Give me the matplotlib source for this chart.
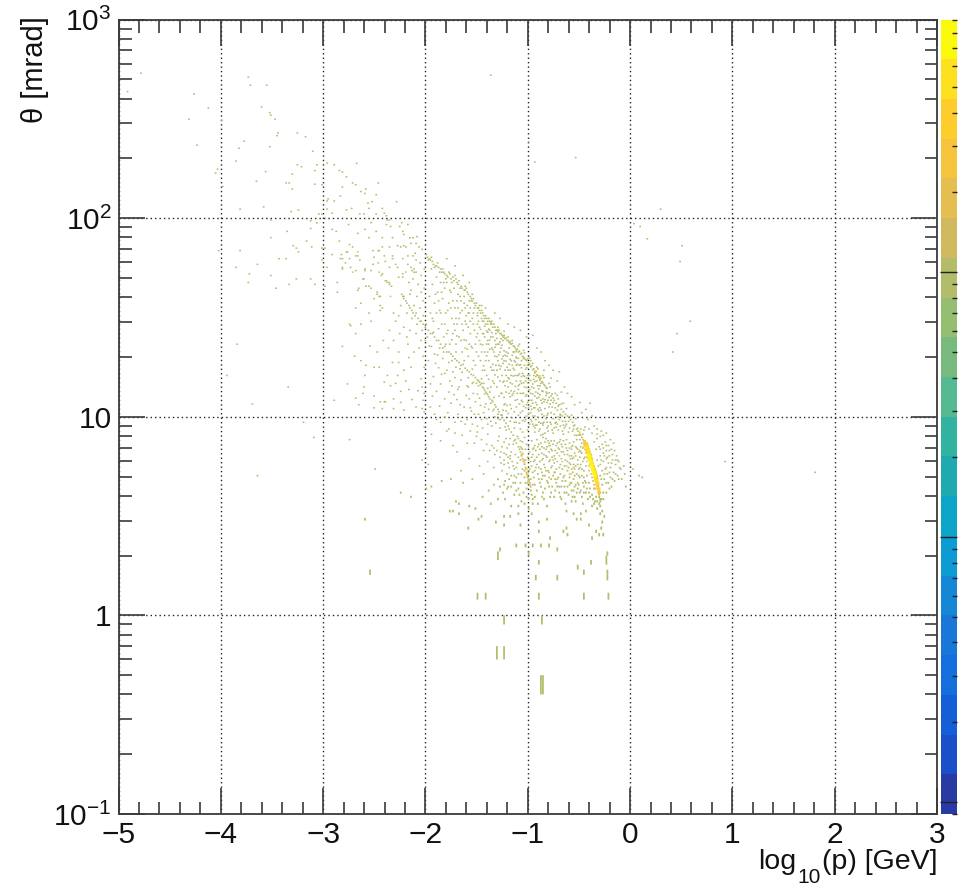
import numpy as np
import matplotlib
matplotlib.use("Agg")
import matplotlib.pyplot as plt
from matplotlib.colors import ListedColormap, LogNorm
from matplotlib.ticker import LogLocator, MultipleLocator, NullFormatter

# hits: (log10 p, theta in mrad)
far_hits = [(-4.79,532),(-4.92,430),(-4.27,418),(-4.13,355),(-4.32,312),(-4.0,309),(-4.24,231),(-3.78,242),
    (-3.83,223),(-3.86,192),(-4.04,175),(-4.06,167),(-3.99,143),(-3.66,152),(-3.82,110),(-3.74,508),(-3.72,463),
    (-3.56,463),(-3.61,360),(-3.53,337),(-3.52,327),(-3.48,312),(-3.45,266),(-3.46,258),(-3.26,266),(-3.18,255),
    (-3.53,227),(-3.11,215),(-3.57,170),(-3.26,184),(-3.22,180),(-3.31,165),(-3.07,184),(-3.09,172),(-3.37,149),
    (-3.34,149),(-3.31,139),(-3.09,147),(-3.02,146),(-3.59,113),(-3.32,107),(-3.25,109),(-3.05,104),(-3.02,104),
    (-1.37,520),(-1.0,240),(-0.54,200),(-0.94,190),(0.09,90),(0.29,110),(0.03,93),(0.16,78),(0.48,60),(0.41,21),
    (0.455,26),(0.58,30),(0.5,72),(0.92,5.9),(1.8,5.2),(-3.65,5.0),(-3.7,11.5),(-3.95,16),(-3.85,23),(-3.35,14),
    (-3.1,7.8),(-2.9,12),(-2.6,3.0),(-2.55,1.65),(-2.25,4.1),(-2.15,3.9),(-2.5,5.4),(-2.75,7.6),(-3.2,9.3)]

upper_left_hits = [(-2.97,188),(-2.90,184),(-2.68,187),(-2.85,172),(-2.82,169),(-2.78,160),(-2.72,149),(-2.69,146),
    (-2.82,142),(-2.47,149),(-2.64,135),(-2.59,139),(-2.60,132),(-2.49,130),(-2.84,128),(-2.96,124),(-2.97,121),
    (-2.90,121),(-2.53,120),(-2.57,118),(-2.29,120),(-2.56,111),(-2.43,111),(-2.73,111),(-2.78,109),(-2.97,110),
    (-2.92,105),(-2.65,104),(-2.61,104),(-2.49,104),(-2.41,105),(-2.39,102),(-3.52,97),(-3.13,96),(-3.07,94),
    (-2.76,92),(-2.54,94),(-2.38,97),(-2.36,97),(-2.24,94),(-2.18,92),(-2.39,92),(-2.35,90),(-2.26,90),(-3.13,88),
    (-2.92,87),(-2.88,85),(-2.60,87),(-2.49,85),(-2.23,85),(-2.22,82),(-3.36,85),(-2.67,83),(-3.52,79),(-2.56,79),
    (-2.43,79),(-2.33,79),(-2.16,79),(-2.13,79),(-2.09,80),(-2.85,76),(-3.17,76),(-2.75,73),(-3.30,72),(-3.12,71),
    (-2.72,71),(-2.43,71),(-2.15,74),(-2.10,74),(-2.25,71),(-2.20,71),(-2.07,71),(-4.03,68),(-3.82,68),(-3.27,70),
    (-3.25,67),(-3.02,70),(-2.99,70),(-2.52,68),(-2.47,68),(-2.67,67),(-2.78,67),(-2.92,65),(-2.83,65),(-2.69,64),
    (-2.33,64),(-2.18,64),(-2.13,64),(-3.44,62),(-3.37,62),(-3.02,61),(-2.84,62),(-2.65,61),(-2.33,62),(-2.40,60),
    (-2.10,61),(-3.65,58),(-2.79,59),(-2.52,58),(-2.47,59),(-3.86,56),(-2.97,56),(-2.82,56),(-2.74,56),(-2.36,56),
    (-2.28,56),(-2.15,56),(-2.12,55),(-2.60,55),(-2.54,54),(-3.73,52),(-3.52,51),(-2.72,53),(-2.46,53),(-2.43,52),
    (-2.23,52),(-2.20,53),(-2.12,53),(-3.13,49),(-3.27,49),(-3.74,47),(-3.34,46),(-2.87,47),(-2.61,49),(-2.39,48),
    (-2.36,47),(-2.23,50),(-3.09,46),(-3.47,44),(-2.56,45),(-2.87,42),(-2.99,45),(-2.67,43),(-2.48,41),(-2.22,40),
    (-2.35,40),(-2.45,40),(-2.16,41)]

mid_left_hits = [(-2.82,22.4),(-2.77,14.5),(-2.69,35),(-2.75,29),(-2.74,28.5),(-2.64,29),(-2.69,26),(-2.54,30),
    (-2.36,27),(-2.42,24),(-2.32,24),(-2.19,25),(-2.27,21),(-2.70,20),(-2.64,19),(-2.59,18),(-2.51,17.6),(-2.46,17.6),
    (-2.33,18.6),(-2.27,18.6),(-2.17,19.7),(-2.22,17),(-2.15,17.6),(-2.02,17.6),(-2.60,16),(-2.41,14.8),(-2.35,14.2),
    (-2.30,14.6),(-2.20,15),(-2.05,15.4),(-2.04,14),(-2.61,14),(-2.62,13),(-2.51,12.6),(-2.45,11.8),(-2.41,11.8),
    (-2.40,11.8),(-2.69,12.3),(-2.66,11.4),(-2.32,12.2),(-2.25,11.7),(-2.14,12.1),(-2.10,11.1),(-2.51,11),(-2.43,10.9),
    (-2.32,10.9),(-2.22,10.7),(-2.04,10.9),(-2.02,10.5),(-2.82,62),(-2.77,67),(-2.67,67),(-2.75,62),(-2.72,53),
    (-2.82,55),(-2.67,64),(-2.60,54),(-2.69,54),(-2.615,49),(-2.51,63),(-2.46,68),(-2.41,64),(-2.36,71),(-2.28,72),
    (-2.22,72),(-2.46,53),(-2.44,51),(-2.40,48),(-2.38,47),(-2.355,46),(-2.34,45),(-2.66,44),(-2.54,44),(-2.59,45),
    (-2.48,42),(-2.46,40),(-2.35,40),(-2.27,50),(-2.20,53),(-2.137,54),(-2.10,53),(-2.05,51),(-2.15,43),(-2.17,47),
    (-2.09,40),(-2.02,44),(-2.446,34),(-2.43,35),(-2.32,33),(-2.27,32),(-2.51,39),(-2.64,37),(-2.14,31),(-2.22,28),
    (-2.10,26),(-2.05,24),(-2.07,22),(-2.45,36),(-2.56,33),(-2.30,30),(-2.12,21),(-2.18,23),(-2.03,20),(-2.37,22),
    (-2.48,21),(-2.55,22.5),(-2.26,26),(-2.02,13),(-2.08,13.4),(-2.17,13.6),(-2.25,13.3),(-2.03,12),(-2.38,16),(-2.28,16),
    (-2.12,36),(-2.06,35),(-2.03,38),(-2.08,46),(-2.19,33),(-2.25,36),(-2.04,27),(-2.09,29),(-2.16,27),(-2.01,24),
    (-2.03,32),(-2.05,42),(-2.13,49),(-2.18,58),(-2.06,59),(-2.11,66),(-2.04,69),(-2.23,62),(-2.30,58),(-2.02,55)]

ridge_upper_hits = [(-2.0,65),(-1.99,63),(-1.97,62),(-1.96,61),(-1.94,60),(-1.93,58),(-1.91,57),(-1.90,57),(-1.88,56),
    (-1.86,55),(-1.85,53),(-1.83,53),(-1.82,52),(-1.80,51),(-1.79,50),(-1.77,52),(-1.76,49),(-1.74,50),(-1.73,48),
    (-1.71,49),(-1.70,47),(-1.69,46),(-1.68,48),(-1.66,45),(-1.65,44),(-1.63,43),(-1.62,43),(-1.60,42),(-1.59,41),
    (-1.57,40),(-1.56,39),(-1.55,38),(-1.53,37),(-1.52,36),(-1.51,37),(-1.50,35),(-1.49,35),(-1.48,34),(-1.47,33),
    (-1.46,34),(-1.45,33),(-1.44,32),(-1.43,31),(-1.42,32),(-1.41,31),(-1.40,30),(-1.39,31),(-1.38,30),(-1.37,29),
    (-1.36,29),(-1.35,28),(-1.34,29),(-1.33,28),(-1.32,27),(-1.31,27),(-1.30,26.5),(-1.29,27),(-1.28,26),(-1.27,26),
    (-1.26,25.5),(-1.25,25),(-1.24,25.5),(-1.23,24.5),(-1.22,24.7),(-1.21,24),(-1.20,24),(-1.19,23.5),(-1.18,23.7),
    (-1.17,23),(-1.16,23.2),(-1.15,22.5),(-1.14,22.4),(-1.13,22),(-1.12,21.5),(-1.11,21.7),(-1.10,21),(-1.09,21.2),
    (-1.08,20.5),(-1.07,20.7),(-1.06,20),(-1.05,19.8),(-1.04,19.5),(-1.03,19.2),(-1.02,19),(-1.01,19.4),(-1.0,18.5),
    (-0.99,18.2),(-0.98,17.7),(-0.97,17.9),(-0.96,17.1),(-0.95,17.3),(-0.94,16.5),(-0.93,16.7),(-0.92,16.1),(-0.91,16),
    (-0.90,15.6),(-0.89,15.3),(-0.88,15.5),(-0.87,14.9),(-0.86,14.7),(-0.85,14.4),(-0.84,14.2),(-0.83,13.9),(-0.82,13.8),
    (-0.80,13.1),(-0.78,12.6),(-0.76,12.3),(-0.75,12),(-0.73,11.6),(-0.71,11.2),(-0.70,11.4),(-0.68,10.8),(-0.66,10.5),
    (-0.64,10.2),(-0.62,10),(-0.60,9.9),(-0.59,9.6),(-0.57,9.3),(-0.55,9.0),(-0.53,8.6),(-0.52,8.4),(-0.50,8.1),(-0.48,7.8)]

ridge_upper_side = [(-1.44,30),(-1.40,29),(-1.36,30),(-1.30,28),(-1.27,24.5),(-1.24,26.7),(-1.20,25),(-1.16,24),(-1.14,21),
    (-1.10,22.5),(-1.07,19),(-1.04,20.8),(-1.01,18),(-0.99,19.6),(-0.96,18.4),(-0.93,15.8),(-0.91,17.3),(-0.88,14.6),
    (-0.85,15.6),(-0.82,13),(-0.79,14),(-0.76,11.7),(-0.72,12.7),(-0.69,10.1),(-0.66,11.6),(-0.64,9.4),(-1.62,45),(-1.55,41),
    (-1.48,36),(-1.42,35),(-1.33,33),(-1.28,31),(-1.20,29),(-1.14,28),(-1.08,27),(-1.02,25),(-0.96,25.5),(-0.92,22),(-0.88,21),
    (-0.84,19),(-0.80,18),(-0.76,17),(-0.72,15),(-0.70,16.7),(-0.65,14),(-0.62,13),(-0.58,12.5),(-0.55,11.4),(-0.50,11.7),
    (-0.48,10.4),(-0.44,10.8),(-0.40,11.6),(-0.85,17),(-0.78,15.5),(-0.68,13.2),(-1.64,51),(-1.72,57),(-1.80,62),(-1.58,47),
    (-1.98,61),(-1.95,63),(-1.92,56),(-1.89,59),(-1.87,53),(-1.84,55),(-1.81,49),(-1.78,53),(-1.75,47),(-1.72,51),(-1.67,44),
    (-1.61,44),(-1.58,38),(-1.54,39),(-1.50,33),(-1.46,36),(-1.12,19.8),(-1.09,23),(-1.05,21.4),(-1.02,17.5),(-0.98,19),(-0.95,16),
    (-0.92,17.6),(-0.89,14.2),(-0.86,16),(-0.83,13.2),(-0.80,14.6),(-0.77,12.9),(-0.74,11),(-0.71,12.2),(-0.67,10),(-0.63,10.9),
    (-0.61,9.4),(-0.58,10.1),(-0.56,8.9),(-0.54,9.7),(-0.51,8.0),(-0.49,8.6),(-0.47,8.1),(-0.46,8.5)]

ridge_lower_hits = [(-2.24,41),(-2.23,40),(-2.22,39),(-2.20,38),(-2.19,37),(-2.17,36),(-2.16,35),(-2.14,34),(-2.13,33),(-2.11,32),
    (-2.10,33),(-2.08,31),(-2.06,30),(-2.05,30),(-2.03,29),(-2.01,28),(-2.0,29),(-1.98,27),(-1.96,26),(-1.94,26),(-1.92,25),
    (-1.90,24),(-1.88,24),(-1.86,23),(-1.84,22),(-1.82,22.4),(-1.80,21),(-1.78,21),(-1.76,20.5),(-1.74,20),(-1.72,19.4),
    (-1.70,19),(-1.68,18.6),(-1.66,18),(-1.64,18.2),(-1.62,17.4),(-1.60,17),(-1.58,16.7),(-1.56,16.2),(-1.54,16),(-1.52,15.6),
    (-1.50,15.2),(-1.49,15),(-1.48,14.8),(-1.47,14.4),(-1.46,14.6),(-1.45,14),(-1.44,13.8),(-1.43,13.5),(-1.42,13.2),(-1.41,13),
    (-1.40,12.8),(-1.39,12.5),(-1.38,12.2),(-1.36,12),(-1.35,11.8),(-1.33,11.4),(-1.32,11.1),(-1.30,10.8),(-1.29,10.5),(-1.27,10.1),
    (-1.26,9.8),(-1.24,9.5),(-1.22,9.2),(-1.20,8.9),(-1.19,8.6),(-1.17,8.3),(-1.15,8.0),(-1.13,7.6),(-1.12,7.3),(-1.10,7.0),
    (-1.09,6.8),(-1.08,6.6),(-1.07,6.3),(-1.06,6.1),(-1.05,5.9),(-1.04,5.7),(-1.03,5.5),(-1.02,5.2),(-1.01,5.0),(-1.0,4.8),
    (-0.99,4.6),(-0.98,4.4),(-0.98,4.2),(-0.97,4.0),(-1.49,14.2),(-1.44,14.6),(-1.38,13.2),(-1.34,12.4),(-1.30,10.2),(-1.25,10.7),
    (-1.93,26.4),(-1.87,22),(-1.81,23),(-1.75,19),(-1.71,21),(-1.67,17.3),(-1.63,19),(-1.59,15.6),(-1.55,17.2),(-1.51,14.6),(-1.46,15.4),
    (-1.40,13.8),(-1.37,11.6),(-1.34,10.8),(-1.28,9.6),(-1.23,8.8),(-1.18,9.4),(-1.14,7.5),(-1.11,7.9),(-1.08,6.0),(-1.06,6.8),(-1.04,5.3),
    (-1.03,6.0),(-1.01,4.6),(-1.0,5.3),(-0.98,4.8),(-0.96,4.5),(-0.96,3.8)]

wedge_hits = [(-1.97,40),(-1.96,33),(-1.95,55),(-1.94,46),(-1.93,30),(-1.92,37),(-1.90,50),(-1.89,42),(-1.88,27.5),(-1.87,34),
    (-1.86,47),(-1.85,29),(-1.84,39),(-1.83,25),(-1.82,44),(-1.81,33),(-1.80,47),(-1.79,27),(-1.78,37),(-1.77,23),(-1.76,42),
    (-1.75,31),(-1.74,26),(-1.73,44),(-1.72,35),(-1.71,23),(-1.70,29),(-1.69,41),(-1.68,25),(-1.67,33),(-1.66,38),(-1.65,21),
    (-1.64,27),(-1.63,40),(-1.62,30),(-1.61,24),(-1.60,36),(-1.59,20),(-1.58,33),(-1.57,26),(-1.56,38),(-1.55,22),(-1.54,29),
    (-1.53,35),(-1.52,18),(-1.51,25),(-1.50,32),(-1.49,20),(-1.48,28),(-1.47,23),(-1.46,31),(-1.45,17),(-1.44,26),(-1.43,21),
    (-1.42,29),(-1.41,16),(-1.40,24),(-1.39,19),(-1.38,27),(-1.37,14),(-1.36,22),(-1.35,25),(-1.34,17),(-1.33,20),(-1.32,26),
    (-1.31,14),(-1.30,23),(-1.29,18),(-1.28,21),(-1.27,13),(-1.26,16),(-1.25,24),(-1.24,19),(-1.23,11.5),(-1.22,21),(-1.21,15),
    (-1.20,17),(-1.19,22),(-1.18,12.5),(-1.17,19),(-1.16,14.5),(-1.15,21),(-1.14,10.5),(-1.13,16),(-1.12,18),(-1.11,13),(-1.10,19.5),
    (-1.09,11.5),(-1.08,15),(-1.07,17.5),(-1.06,9.5),(-1.05,13),(-1.04,18),(-1.03,11),(-1.02,15.5),(-1.01,8.5),(-1.0,13.5),(-0.99,16),
    (-0.98,9.6),(-0.97,12),(-0.96,14.5),(-0.95,8.9),(-0.94,11),(-0.93,13.2),(-0.92,15),(-0.91,9.9),(-0.90,12.4),(-0.89,8.6),(-0.88,10.7),
    (-0.87,13.4),(-0.86,9.2),(-0.85,11.8),(-0.84,8.2),(-0.83,12.7),(-0.82,10.1),(-0.81,8.9),(-0.80,11.1),(-0.79,9.3),(-0.78,10.4),
    (-1.94,31),(-1.91,41),(-1.86,33),(-1.83,47),(-1.80,26),(-1.76,35),(-1.73,29),(-1.70,38),(-1.66,24),(-1.62,35),(-1.59,28),(-1.55,31),
    (-1.52,23),(-1.49,30),(-1.45,26),(-1.42,19),(-1.39,23),(-1.36,17),(-1.33,24),(-1.30,19),(-1.27,22),(-1.24,15),(-1.21,20),(-1.18,17),
    (-1.15,13),(-1.12,15),(-1.09,18),(-1.06,13),(-1.03,15),(-1.0,11),(-0.97,14),(-0.94,10),(-0.91,13),(-0.88,12),(-0.85,10),(-0.82,11.7),
    (-1.58,23),(-1.54,19),(-1.50,26),(-1.46,21),(-1.43,25),(-1.40,21),(-1.37,25),(-1.34,21),(-1.31,17),(-1.28,15),(-1.25,20),(-1.22,16),
    (-1.19,13),(-1.16,18),(-1.13,12),(-1.10,16),(-1.07,12),(-1.04,14),(-1.01,16),(-0.98,13),(-0.95,11),(-0.92,9),(-0.89,11),(-0.86,12.2),
    (-1.35,15),(-1.32,18),(-1.29,23),(-1.26,13),(-1.23,17),(-1.20,14),(-1.17,16),(-1.14,19),(-1.11,16),(-1.08,13),(-1.05,16),(-1.02,10),
    (-0.99,12),(-0.96,10),(-0.93,11.7),(-0.90,9.3),(-0.87,10.2),(-0.84,10.9),(-0.81,12),(-0.78,12),(-0.75,10.2),(-0.72,10.7),(-0.70,9.6),
    (-0.68,11.5),(-0.74,13),(-0.77,8.5),(-0.73,8.8),(-1.32,9.2),(-1.28,8.7),(-1.24,11.4),(-1.20,10.3),(-1.16,9.8),(-1.12,9.3),(-1.08,8.6),
    (-1.42,11.5),(-1.48,12.3),(-1.54,13),(-1.60,14.2),(-1.66,15.2),(-1.72,15.6),(-1.78,18.6),(-1.84,19.5),(-1.92,20.5),(-1.97,22.5),
    (-1.93,15.8),(-1.86,14.5),(-1.78,13.2),(-1.70,12.1),(-1.63,11.1),(-1.56,10.6),(-1.49,10.2),(-1.41,9.7),(-1.36,8.9),(-1.98,19),(-1.96,14.5),
    (-1.74,16.7),(-1.68,14),(-1.58,12.2),(-1.88,17.5),(-1.82,16.4),(-1.52,11.8),(-1.44,10.4)]

wedge_extra = [(-1.47,27.3),(-1.41,26.8),(-1.38,24.1),(-1.35,21.6),(-1.33,22.2),(-1.31,24.6),(-1.29,20.3),(-1.28,17.2),(-1.26,22.7),(-1.25,18.4),
    (-1.24,21.3),(-1.23,14.2),(-1.22,18.9),(-1.21,17.6),(-1.20,20.7),(-1.19,15.4),(-1.18,19.3),(-1.17,13.4),(-1.16,20.2),(-1.15,15.9),(-1.14,17.1),
    (-1.13,14.1),(-1.12,19.6),(-1.11,12.1),(-1.10,14.2),(-1.09,16.3),(-1.08,18.1),(-1.07,14.6),(-1.06,16.4),(-1.05,11.2),(-1.04,15.8),(-1.03,17.2),
    (-1.02,12.8),(-1.01,14.7),(-1.0,10.3),(-0.99,13.6),(-0.98,15.1),(-0.97,10.8),(-0.96,12.9),(-0.95,13.8),(-0.94,14.9),(-0.93,9.6),(-0.92,11.4),
    (-0.91,14.2),(-0.90,10.6),(-0.89,12.8),(-0.88,9.2),(-0.87,11.6),(-0.86,13.3),(-0.85,9.3),(-0.84,12.1),(-0.83,9.7),(-0.82,8.7),(-0.81,10.3),
    (-0.80,12.4),(-0.79,11.5),(-0.77,11.1),(-0.76,9.7),(-0.74,9.2),(-0.71,9.9),(-0.69,8.9),(-0.67,9.4),(-0.65,8.7),(-0.63,9.1),
    (-1.45,22.8),(-1.44,17.9),(-1.43,28.3),(-1.41,20.1),(-1.40,26.4),(-1.39,15.3),(-1.38,21.7),(-1.37,17.6),(-1.36,26.3),(-1.35,18.2),(-1.34,14.6),
    (-1.33,16.1),(-1.32,22.9),(-1.31,19.9),(-1.30,15.7),(-1.29,12.6),(-1.28,23.6),(-1.27,17.8),(-1.26,19.4),(-1.25,14.8),(-1.24,12.4),(-1.23,20.2),
    (-1.22,13.2),(-1.21,11.3),(-1.20,15.6),(-1.19,18.2),(-1.18,14.7),(-1.17,10.9),(-1.16,12.7),(-1.15,17.4),(-1.14,13.3),(-1.13,18.7),(-1.12,11.1),
    (-1.11,18.2),(-1.10,13.6),(-1.09,14.4),(-1.08,10.4),(-1.07,15.8),(-1.06,11.8),(-1.05,14.7),(-1.04,9.4),(-1.03,12.6),(-1.02,13.9),(-1.01,11.7),
    (-1.0,15.2),(-0.99,9.1),(-0.98,11.2),(-0.97,9.4),(-0.96,11.6),(-0.95,15.3),(-0.94,12.6),(-0.93,9.0),(-0.92,12.3),(-0.91,10.8),(-0.90,13.7),
    (-1.75,24.2),(-1.72,27),(-1.70,25.3),(-1.68,31),(-1.65,29),(-1.63,24.2),(-1.61,32),(-1.60,21.7),(-1.57,30),(-1.56,22.4),(-1.54,33),(-1.53,27),
    (-1.51,21),(-1.50,29),(-1.48,24),(-1.47,19),(-1.45,30),(-1.43,17),(-1.41,23),(-1.39,27.4),(-1.90,33),(-1.88,38),(-1.85,42),(-1.82,29),(-1.79,34),
    (-1.77,43),(-1.74,38),(-1.71,31),(-1.69,35),(-1.67,40),(-1.65,34),(-1.63,37),(-1.61,29),(-1.59,33),(-1.57,35),
    (-1.30,9.7),(-1.26,10.1),(-1.22,10.6),(-1.18,11.4),(-1.14,9.3),(-1.10,10.1),(-1.06,10.6),(-1.02,11.4),(-0.98,10.4),(-0.94,8.7),(-0.90,8.4),(-0.86,8.1),
    (-0.82,9.3),(-0.78,9.1),(-0.75,8.7),(-0.72,9.1),(-0.69,10.2),(-0.67,8.4),(-0.64,8.9),(-0.60,8.7),(-0.57,8.4),(-0.55,8.0)]

left_extra = [(-1.99,25),(-1.95,22.4),(-1.91,18.4),(-1.89,20.3),(-1.85,16.2),(-1.83,21),(-1.80,17),(-1.77,15),(-1.75,14.2),(-1.73,12.8),(-1.71,17.6),
    (-1.69,13.6),(-1.67,11.4),(-1.65,16.6),(-1.61,12.7),(-1.59,14),(-1.57,11),(-1.55,14.6),(-1.53,10.2),(-1.50,12.9),(-1.47,11.3),(-1.46,9.6),(-1.43,11.1),
    (-1.39,10.8),(-1.37,9.4),(-1.33,9.9),(-1.94,12.6),(-1.90,13.3),(-1.87,11.2),(-1.82,12.2),(-1.79,10.4),(-1.76,11.6),(-1.69,10.2),(-1.66,9.4),(-1.60,9.6),
    (-1.55,9.1),(-1.50,8.3),(-1.45,8.7),(-1.40,9.1),(-1.96,11.1),(-1.92,10.2),(-1.86,9.3),(-1.80,8.4),(-1.72,8.2),(-1.65,8.0),(-1.57,8.4),(-1.53,7.3),(-1.46,7.6),
    (-1.41,7.2),(-1.38,6.7),(-1.34,6.9),(-1.31,6.7),(-1.29,7.9),(-1.27,6.6),(-1.24,7.4),(-1.24,6.5),(-1.22,7.7),(-1.19,7.2),(-1.18,6.3)]

blob_hits = [(-1.18,7.7),(-1.15,7.2),(-1.21,6.9),(-1.17,6.6),(-1.13,6.4),(-1.20,6.2),(-1.16,5.9),(-1.11,5.8),(-1.24,5.7),(-1.19,5.5),
    (-1.14,5.4),(-1.26,5.3),(-1.21,5.1),(-1.17,5.0),(-1.12,4.9),(-1.30,4.8),(-1.23,4.7),(-1.15,4.6),(-1.34,4.5),(-1.20,4.4),(-1.10,4.3),
    (-1.39,4.2),(-1.25,4.1),(-1.14,4.0),(-1.45,3.9),(-1.30,3.8),(-1.07,3.7),(-1.37,3.6),(-1.17,3.5),(-1.52,3.4),(-1.10,7.7),(-1.08,7.5),
    (-1.06,7.4),(-1.04,7.8),(-1.02,7.2),(-1.07,6.9),(-1.03,6.8),(-1.0,7.0),(-0.97,7.5),(-0.95,6.9),(-0.99,6.6),(-0.96,6.4),(-0.93,6.7),
    (-0.90,7.2),(-0.92,6.2),(-0.95,5.9),(-0.89,5.9),(-0.97,5.6),(-0.93,5.5),(-0.87,6.5),(-0.88,5.4),(-0.96,5.2),(-0.91,5.1),(-0.85,5.7),
    (-0.95,4.9),(-0.90,4.8),(-0.84,5.0),(-0.94,4.5),(-0.88,4.4),(-0.82,4.7),(-0.92,4.2),(-0.86,4.1),(-0.80,4.4),(-0.94,3.9),(-0.85,3.8),
    (-0.78,4.1),(-0.91,3.6),(-0.82,3.5),(-0.75,3.9),(-0.86,7.8),(-0.84,7.4),(-0.82,7.0),(-0.80,6.6),(-0.83,6.3),(-0.78,7.5),(-0.77,6.2),
    (-0.80,5.9),(-0.75,5.8),(-0.78,5.5),(-0.73,7.1),(-0.72,6.5),(-0.75,5.2),(-0.70,5.5),(-0.74,4.8),(-0.69,5.1),(-0.72,4.4),(-0.67,4.7),
    (-0.70,4.1),(-0.65,4.4),(-0.68,3.8),(-0.63,4.1),(-0.64,3.6),(-0.69,7.6),(-0.67,7.0),(-0.65,6.4),(-0.68,6.1),(-0.63,6.9),(-0.62,5.9),
    (-0.65,5.6),(-0.60,6.3),(-0.62,5.3),(-0.59,5.7),(-0.60,4.9),(-0.57,5.2),(-0.60,4.5),(-0.56,4.8),(-0.58,4.2),(-0.55,4.4),(-0.57,3.9),
    (-0.53,4.1),(-0.54,3.7),(-0.60,7.3),(-0.58,6.8),(-0.56,7.4),(-0.55,6.5),(-0.57,6.1),(-0.53,6.9),(-0.52,6.0),(-0.54,5.6),(-0.51,5.4),
    (-0.53,5.1),(-0.50,4.9),(-0.51,4.5),(-0.49,4.2),(-0.48,3.9),(-0.50,7.6),(-0.49,7.0),(-0.48,6.5),(-0.50,6.2),(-0.47,5.9),(-0.49,5.7),
    (-0.46,5.3),(-0.48,5.0),(-0.45,4.7),(-0.46,4.4),(-0.44,4.1),(-0.42,3.8),(-0.47,3.6),(-0.38,3.5),(-0.35,3.7),(-0.33,3.4),(-0.30,3.2),
    (-0.44,5.6),(-0.43,5.0),(-0.41,4.6),(-0.40,4.3),(-0.38,4.0),(-0.36,4.3),(-0.34,3.9),(-0.31,3.6),(-0.29,3.8),(-0.27,4.1),(-0.28,4.5),
    (-0.26,4.8),(-0.30,5.0),(-0.28,5.3),(-0.25,5.4),(-0.30,5.7),(-0.27,5.9),(-0.24,6.1),(-0.33,6.0),(-0.30,6.3),(-0.27,6.5),(-0.24,6.7),
    (-0.21,6.3),(-0.34,6.8),(-0.31,7.0),(-0.28,7.2),(-0.25,7.4),(-0.22,7.1),(-0.19,6.8),(-0.36,7.4),(-0.33,7.7),(-0.30,7.9),(-0.27,8.0),
    (-0.22,5.8),(-0.20,5.5),(-0.18,6.0),(-0.23,5.1),(-0.20,4.9),(-0.17,5.2),(-0.15,5.7),(-0.22,4.6),(-0.19,4.4),(-0.16,4.7),(-0.13,5.0),
    (-0.14,6.3),(-0.16,6.7),(-0.12,5.9),(-0.10,5.4),(-0.09,4.8),(-0.06,5.1),(-0.05,4.4),(0.02,5.4),(0.08,5.0),(0.11,4.9),(-0.38,8.2),(-0.41,8.6),
    (-0.36,8.9),(-0.33,8.6),(-0.45,8.8),(-0.42,9.6),(-0.38,10),(-1.22,8.5),(-1.14,8.7),(-1.06,8.3),(-1.01,8.5),(-0.94,8.3),(-0.88,8.0),(-0.81,8.4),
    (-0.76,8.2),(-0.71,8.5),(-0.66,8.1),(-0.61,8.3),(-0.56,8.6),(-0.53,8.0),(-1.09,9.2),(-1.03,9.6),(-0.96,9.1),(-0.86,9.0),(-0.73,9.3),(-0.66,9.0),
    (-1.30,7.5),(-1.36,7.1),(-1.44,6.7),(-1.51,7.9),(-1.60,7.3),(-1.70,6.6),(-1.78,8.6),(-1.90,9.6),(-1.82,9.9),(-1.72,9.3),(-1.62,9.1),(-1.50,8.9),
    (-1.40,8.1),(-1.33,6.4),(-1.40,5.9),(-1.48,5.6),(-1.58,6.1),(-1.66,5.3),(-1.74,7.1),(-1.86,7.5),(-1.95,8.1),(-2.02,8.8),(-2.04,6.0),(-1.98,5.7),
    (-1.85,4.7),(-1.76,4.8),(-1.64,4.6),(-1.55,4.8),(-1.44,5.1),(-1.34,5.5),(-1.28,6.2),(-1.26,7.0),(-2.0,6.9),(-2.0,4.3),(-1.95,4.4)]

blob_extra = [(-0.94,7.1),(-0.92,7.6),(-0.90,6.4),(-0.89,6.8),(-0.88,7.3),(-0.87,5.2),(-0.86,6.1),(-0.85,6.9),(-0.84,5.5),(-0.83,7.7),(-0.82,6.2),(-0.81,5.3),
    (-0.80,7.3),(-0.79,6.0),(-0.78,6.8),(-0.77,5.6),(-0.76,7.2),(-0.75,6.3),(-0.74,6.7),(-0.73,5.4),(-0.72,5.9),(-0.71,6.9),(-0.70,7.4),(-0.69,5.7),(-0.68,6.6),
    (-0.67,5.4),(-0.66,7.5),(-0.65,5.0),(-0.64,6.0),(-0.63,7.6),(-0.62,6.7),(-0.61,5.5),(-0.60,6.9),(-0.59,6.1),(-0.58,5.4),(-0.57,7.1),(-0.56,5.7),(-0.55,5.0),
    (-0.54,6.3),(-0.53,7.6),(-0.52,6.8),(-0.51,5.0),(-0.50,5.5),(-0.49,6.6),(-0.48,5.4),(-0.47,6.9),(-0.46,4.9),(-0.45,6.2),(-0.94,5.3),(-0.92,5.7),(-0.90,5.5),
    (-0.89,4.6),(-0.87,4.8),(-0.86,5.0),(-0.84,4.3),(-0.83,5.3),(-0.81,4.6),(-0.80,5.2),(-0.79,3.9),(-0.78,4.8),(-0.77,4.4),(-0.76,5.0),(-0.74,4.2),(-0.73,4.6),
    (-0.71,4.9),(-0.70,4.4),(-0.69,3.9),(-0.68,4.4),(-0.66,4.9),(-0.65,4.1),(-0.64,4.7),(-0.62,4.4),(-0.61,4.0),(-0.59,4.6),(-0.58,3.7),(-0.56,4.2),(-0.55,3.9),
    (-0.54,4.5),(-0.52,4.3),(-0.50,4.1),(-0.47,4.6),(-0.46,4.1),(-0.44,4.6),(-0.43,4.3),(-0.41,4.1),(-0.40,3.9),(-0.37,3.8),(-0.36,3.6),(-0.33,3.7),
    (-0.87,7.0),(-0.85,6.4),(-0.83,6.8),(-0.81,7.5),(-0.79,7.1),(-0.77,6.7),(-0.75,7.5),(-0.74,6.1),(-0.72,7.3),(-0.70,6.8),(-0.68,7.2),(-0.66,6.6),(-0.64,7.2),
    (-0.62,6.4),(-0.60,5.8),(-0.58,6.3),(-0.56,5.5),(-0.54,7.0),(-0.52,5.7),(-0.50,6.7),(-0.48,7.3),(-0.46,6.1),(-0.32,5.6),(-0.29,6.0),(-0.26,6.3),(-0.23,6.2),
    (-0.30,6.8),(-0.27,6.9),(-0.24,7.1),(-0.21,6.7),(-0.29,4.8),(-0.26,5.1),(-0.24,5.5),(-0.21,5.2),(-0.19,5.8),(-0.24,4.6),(-0.21,4.3),(-0.18,4.8),(-0.27,3.8),
    (-0.24,4.1),(-0.15,5.1),(-0.12,4.8),(-0.13,6.0),(-0.11,5.5),(-0.18,6.4),(-0.15,6.0),(-0.17,7.3),(-0.20,7.6),(-0.24,8.2),(-0.29,8.4),(-0.33,8.1),(-0.07,5.6),
    (-1.14,5.0),(-1.12,5.5),(-1.10,6.2),(-1.10,5.1),(-1.13,4.6),(-1.15,5.6),(-1.18,6.1),(-1.20,5.8),(-1.22,6.4),(-1.24,6.0),(-1.27,5.8),(-1.19,4.8),(-1.21,4.3),
    (-1.24,4.5),(-1.28,4.4),(-1.17,4.4),(-1.12,4.2),(-1.08,4.6),(-1.07,5.1),(-1.06,5.4),(-1.04,4.9),(-1.03,4.6),(-1.02,4.3),(-1.01,6.2),(-1.0,6.0),(-0.99,5.4),
    (-0.98,5.9),(-0.97,6.2),(-0.96,6.8),(-0.94,6.0),(-1.09,4.0),(-1.05,4.1),(-1.02,3.9),(-1.10,3.5),(-1.04,3.6),(-1.0,3.8),(-0.96,3.6),(-1.23,3.8)]

bottom_hits = [(-0.875,0.45),(-0.855,0.45),(-1.31,0.65),(-1.24,0.65),(-1.235,0.95),(-0.865,0.95),(-1.50,1.25),(-1.42,1.25),(-0.90,1.25),
    (-0.455,1.25),(-0.22,1.25),(-0.925,1.55),(-0.72,1.55),(-0.23,1.55),(-0.23,1.65),(-0.90,1.85),(-0.52,1.75),(-0.455,1.65),(-0.385,1.85),
    (-0.24,1.95),(-0.24,1.85),(-0.23,2.05),(-1.28,2.15),(-1.30,2.05),(-1.30,1.95),(-0.72,2.15),(-1.0,2.05),(-1.12,2.25),(-1.03,2.25),(-0.96,2.25),
    (-0.88,2.25),(-0.80,2.25),(-1.59,2.75),(-1.32,2.95),(-1.235,2.85),(-1.49,3.05),(-1.46,3.15),(-1.235,3.15),(-1.18,3.15),(-1.68,3.25),(-1.77,3.35),
    (-1.74,3.35),(-1.58,3.55),(-1.68,3.65),(-1.71,3.75),(-0.90,2.95),(-0.90,2.65),(-0.79,2.45),(-0.66,2.65),(-0.62,2.55),(-0.63,2.75),(-0.82,3.05),
    (-0.63,3.35),(-0.56,3.25),(-0.53,3.05),(-0.49,3.25),(-0.49,3.05),(-0.44,3.35),(-0.41,2.85),(-0.34,2.65),(-0.38,2.45),(-0.29,2.75),(-0.27,2.55),
    (-0.31,2.55),(-0.28,3.35),(-0.26,3.15),(-0.28,2.95),(-1.0,3.45),(-1.10,3.25),(-1.08,2.85),(-0.97,3.25)]

# bins that hold more than one hit: (log10 p, theta, hits)
hot_bins = [(-0.47,7.6,2),(-0.46,7.5,3),(-0.46,7.4,3),(-0.45,7.3,4),(-0.44,7.3,4),(-0.45,7.2,5),(-0.44,7.2,5),(-0.45,7.1,5),(-0.44,7.1,6),(-0.43,7.1,4),
    (-0.44,7.0,6),(-0.43,7.0,6),(-0.44,6.9,6),(-0.43,6.9,7),(-0.43,6.8,7),(-0.42,6.8,5),(-0.44,6.7,3),(-0.43,6.7,7),(-0.42,6.7,6),(-0.43,6.6,5),(-0.42,6.6,7),
    (-0.43,6.5,5),(-0.42,6.5,8),(-0.41,6.5,5),(-0.42,6.4,8),(-0.41,6.4,7),(-0.42,6.3,7),(-0.41,6.3,9),(-0.40,6.3,3),(-0.41,6.2,9),(-0.40,6.2,5),(-0.42,6.1,4),
    (-0.41,6.1,8),(-0.40,6.1,7),(-0.41,6.0,6),(-0.40,6.0,9),(-0.39,6.0,4),(-0.40,5.9,9),(-0.39,5.9,6),(-0.40,5.8,7),(-0.39,5.8,9),(-0.40,5.7,5),(-0.39,5.7,9),
    (-0.38,5.7,6),(-0.39,5.6,8),(-0.38,5.6,7),(-0.39,5.5,6),(-0.38,5.5,8),(-0.37,5.5,4),(-0.38,5.4,9),(-0.37,5.4,6),(-0.38,5.3,7),(-0.37,5.3,9),(-0.36,5.3,3),
    (-0.37,5.2,8),(-0.36,5.2,6),(-0.37,5.1,6),(-0.36,5.1,9),(-0.35,5.1,5),(-0.36,5.0,8),(-0.35,5.0,6),(-0.36,4.9,6),(-0.35,4.9,7),(-0.34,4.9,3),(-0.35,4.8,7),
    (-0.34,4.8,4),(-0.35,4.7,6),(-0.34,4.7,5),(-0.34,4.6,6),(-0.33,4.6,3),(-0.34,4.5,5),(-0.33,4.5,4),(-0.33,4.4,5),(-0.33,4.3,5),(-0.32,4.3,4),(-0.32,4.2,4),
    (-0.32,4.1,3),(-0.31,4.1,3),(-0.31,4.0,2),(-0.31,3.9,1),(-0.30,3.8,1),(-0.30,3.7,1),(-0.30,3.5,1),
    (-0.49,8.0,2),(-0.50,8.3,2),(-0.52,8.7,2),(-1.07,6.4,3),(-1.06,6.5,2),(-1.05,6.0,3),(-1.04,5.8,2),(-1.03,5.4,3),(-1.02,5.1,3),(-1.01,4.9,2),(-1.0,4.7,2),
    (-1.08,7.0,2),(-0.99,4.5,2),(-1.37,29.5,2),(-1.30,27.2,2),(-1.24,25,2),(-1.18,23.2,2),(-1.12,21.1,2),(-1.05,19.4,2),(-0.94,16.8,3),(-0.90,15.9,3),(-0.89,15.1,2),
    (-1.54,14.8,2),(-1.43,12.9,2),(-1.62,22,2),(-1.35,10.6,2),(-0.87,6.0,2),(-0.80,7.1,2),(-0.76,6.0,2),(-0.74,5.2,2),(-0.70,6.3,2),(-0.67,5.9,2),(-0.63,5.6,2),
    (-0.60,5.1,3),(-0.58,7.0,2),(-0.56,6.2,2),(-0.55,5.4,2),(-0.52,4.6,2),(-0.51,6.6,2),(-0.80,4.9,2),(-0.91,7.0,2),(-0.72,4.8,2),(-0.58,4.6,2),(-0.87,3.9,2),
    (-0.46,7.2,2),(-0.46,7.0,2),(-0.45,6.8,2),(-0.44,6.5,2),(-0.43,6.2,2),(-0.43,5.9,2),(-0.41,5.6,2),(-0.41,5.3,2),(-0.39,5.1,2),(-0.38,4.9,2),(-0.37,4.7,2),
    (-0.36,4.5,2),(-0.35,4.3,2),(-0.41,6.8,2),(-0.40,6.6,2),(-0.39,6.4,2),(-0.38,6.1,2),(-0.37,5.8,2),(-0.36,5.6,2),(-0.35,5.4,2),(-0.34,5.2,2),(-0.33,5.0,2),(-0.33,4.8,2)]

# colour bar bands, bottom to top
band_colors = [(42,58,165),(25,80,200),(20,95,215),(20,110,220),(25,120,215),(20,135,215),(12,155,212),(12,165,200),
    (32,170,175),(50,178,160),(85,185,145),(120,185,125),(150,190,115),(178,188,105),(208,185,95),(228,190,80),
    (245,195,60),(254,205,45),(253,225,30),(250,249,12)]

hit_weight = 90
z_min, z_max = 0.9, 900
x_ticks = [-5, -4, -3, -2, -1, 0, 1, 2, 3]
x_labels = ['\u22125', '\u22124', '\u22123', '\u22122', '\u22121', '0', '1', '2', '3']
y_ticks = [0.1, 1, 10, 100, 1000]
y_labels = ['$\\mathregular{10^{-1}}$', '1', '10', '$\\mathregular{10^{2}}$', '$\\mathregular{10^{3}}$']

plt.rcParams['font.family'] = ['Liberation Sans', 'DejaVu Sans']
plt.rcParams['mathtext.fontset'] = 'custom'
plt.rcParams['mathtext.rm'] = 'Liberation Sans'
plt.rcParams['mathtext.default'] = 'regular'

W, H = 972, 889
fig = plt.figure(figsize=(W/100, H/100), dpi=100)
ax = fig.add_axes([118.5/W, 1-814/H, (937-118.5)/W, (814-19.5)/H])
cax = fig.add_axes([941/W, 1-814/H, 16/W, (814-19.5)/H])

cmap = ListedColormap([tuple(c/255 for c in rgb) for rgb in band_colors])
norm = LogNorm(z_min, z_max)

# fill the histogram, 0.01 wide in log10 p and 0.1 mrad in theta
bins = {}
singles = far_hits + upper_left_hits + mid_left_hits + ridge_upper_hits + ridge_upper_side + ridge_lower_hits + \
    wedge_hits + wedge_extra + left_extra + blob_hits + blob_extra + bottom_hits
for p, theta in singles:
    key = (int(np.floor((p+5)/0.01+1e-6)), int(np.floor(theta/0.1+1e-6)))
    bins[key] = bins.get(key, 0) + 1
for p, theta, n in hot_bins:
    key = (int(np.floor((p+5)/0.01+1e-6)), int(np.floor(theta/0.1+1e-6)))
    bins[key] = max(bins.get(key, 0), n)

ix = np.array([k[0] for k in bins])
it = np.array([k[1] for k in bins])
counts = np.array(list(bins.values()))
left = -5 + ix*0.01
low = it*0.1
# cells never get thinner than about a pixel and a half on screen
top = np.maximum(low+0.1, low*10**0.0075)
# full cells in the hot band smear out in the reference, so draw them wider
widths = np.where(counts >= 3, 0.03, 0.017)
order = np.argsort(counts)
bars = ax.bar(left[order], (top-low)[order], width=widths[order], bottom=low[order], align='edge', linewidth=0,
              color=cmap(norm(counts[order]*hit_weight)), zorder=2.5)
for b in bars:
    b.set_snap(False)

ax.set_xlim(-5, 3)
ax.set_ylim(0.1, 1000)
ax.set_yscale('log')
ax.set_xticks(x_ticks)
ax.set_xticklabels(x_labels)
ax.xaxis.set_minor_locator(MultipleLocator(0.2))
ax.set_yticks(y_ticks)
ax.set_yticklabels(y_labels)
ax.yaxis.set_minor_locator(LogLocator(base=10, subs=range(2, 10), numticks=12))
ax.yaxis.set_minor_formatter(NullFormatter())
ax.grid(True, which='major', color='#222222', linestyle=(0, (1, 2.2)), linewidth=1.0)
ax.set_axisbelow(True)
ax.tick_params(which='major', direction='in', top=True, right=True, length=18.5, width=1.2, color='#3a3a3a',
               labelsize=21.5, labelcolor='#111111')
ax.tick_params(which='minor', direction='in', top=True, right=True, length=9, width=1.2, color='#3a3a3a')
ax.tick_params(axis='x', which='major', pad=5)
ax.tick_params(axis='y', which='major', pad=5)
for s in ax.spines.values():
    s.set_linewidth(1.3)
    s.set_color('#3a3a3a')

# colour bar
z_edges = np.logspace(np.log10(z_min), np.log10(z_max), 21)
z_mid = np.sqrt(z_edges[:-1]*z_edges[1:])
cax.pcolormesh([0, 1], z_edges, z_mid[:, None], cmap=cmap, norm=norm)
cax.set_yscale('log')
cax.set_ylim(z_min, z_max)
cax.set_xlim(0, 1)
cax.set_xticks([])
cax.yaxis.tick_right()
cax.yaxis.set_major_locator(LogLocator(base=10, numticks=6))
cax.yaxis.set_minor_locator(LogLocator(base=10, subs=range(2, 10), numticks=12))
cax.yaxis.set_major_formatter(NullFormatter())
cax.yaxis.set_minor_formatter(NullFormatter())
cax.tick_params(which='major', direction='in', length=12, width=1.0, color='#222222')
cax.tick_params(which='minor', direction='in', length=3.6, width=1.0, color='#222222')
for s in cax.spines.values():
    s.set_visible(False)

# x title in three pieces so the subscript can hang as low as in ROOT
fig.canvas.draw()
rend = fig.canvas.get_renderer()
lab_kw = dict(fontsize=20.5, color='#111111', va='baseline', ha='right')
t3 = fig.text(937/W, 1-869/H, '(p) [GeV]', **lab_kw)
x3 = t3.get_window_extent(rend).x0
t2 = fig.text((x3-1)/W, 1-883/H, '10', fontsize=15, color='#111111', va='baseline', ha='right')
x2 = t2.get_window_extent(rend).x0
fig.text((x2-1)/W, 1-869/H, 'log', **lab_kw)
fig.text(35/W, 1-16/H, '\u03b8 [mrad]', ha='center', va='top', rotation=90, fontsize=21, color='#111111')

fig.savefig('out.png', dpi=100)
